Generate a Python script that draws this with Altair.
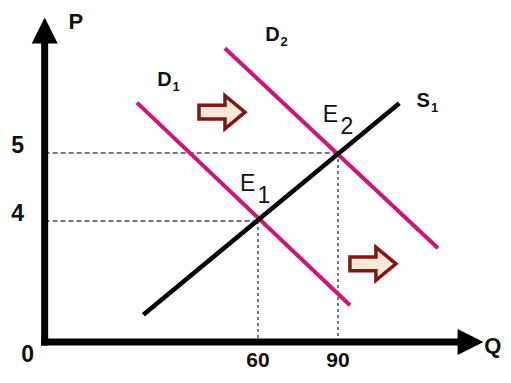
import altair as alt
import pandas as pd

# ---- data (Q = quantity, P = price) ----
origin_q = -20.0
origin_p = 2.22
y_axis_top_p = 6.62
x_axis_end_q = 135.0
y_arrow_p = 6.80
x_arrow_q = 139.7

demand_names = ["D1", "D2"]
demand_q_start = [14.6, 47.6]
demand_p_start = [5.74, 6.54]
demand_q_end = [94.5, 127.5]
demand_p_end = [2.76, 3.60]

supply_names = ["S1"]
supply_q_start = [17.0]
supply_p_start = [2.62]
supply_q_end = [113.0]
supply_p_end = [5.73]

eq_names = ["E1", "E2"]
eq_q = [60, 90]
eq_p = [4, 5]

q_ticks = [60, 90]
p_ticks = [4, 5]

curve_label_main = ["D", "D", "S"]
curve_label_sub = ["1", "2", "1"]
curve_label_q = [24.9, 65.4, 121.9]
curve_label_p = [6.07, 6.73, 5.76]

eq_label_main = ["E", "E"]
eq_label_sub = ["1", "2"]
eq_label_q = [56.1, 87.2]
eq_label_p = [4.55, 5.56]

shift_arrow_q = [46.5, 103.1]
shift_arrow_p = [5.60, 3.37]

axis_title_text = ["P", "Q"]
axis_title_q = [-8.3, 148.1]
axis_title_p = [6.93, 2.16]

W, H = 495, 367
xs = alt.Scale(domain=[-33.75, 151.875], nice=False, zero=False)
ys = alt.Scale(domain=[1.735, 7.132], nice=False, zero=False)
X = lambda f: alt.X(f, type="quantitative", scale=xs, axis=None)
Y = lambda f: alt.Y(f, type="quantitative", scale=ys, axis=None)

FONT = "Liberation Sans"
PINK = "#CF1578"

demand_df = pd.DataFrame({"name": demand_names, "q": demand_q_start, "p": demand_p_start,
                          "q2": demand_q_end, "p2": demand_p_end})
supply_df = pd.DataFrame({"name": supply_names, "q": supply_q_start, "p": supply_p_start,
                          "q2": supply_q_end, "p2": supply_p_end})
eq_df = pd.DataFrame({"name": eq_names, "q": eq_q, "p": eq_p, "oq": origin_q, "op": origin_p})
axes_df = pd.DataFrame({"q": [origin_q, origin_q], "p": [origin_p, origin_p],
                        "q2": [x_axis_end_q, origin_q], "p2": [origin_p, y_axis_top_p]})
qtick_df = pd.DataFrame({"q": q_ticks, "p": origin_p, "label": [str(v) for v in q_ticks]})
ptick_df = pd.DataFrame({"q": origin_q, "p": p_ticks, "label": [str(v) for v in p_ticks]})
zero_df = pd.DataFrame({"q": [origin_q], "p": [origin_p], "label": ["0"]})
curve_lab_df = pd.DataFrame({"q": curve_label_q, "p": curve_label_p,
                             "main": curve_label_main, "sub": curve_label_sub})
eq_lab_df = pd.DataFrame({"q": eq_label_q, "p": eq_label_p,
                          "main": eq_label_main, "sub": eq_label_sub})
arrow_df = pd.DataFrame({"q": shift_arrow_q, "p": shift_arrow_p})
title_df = pd.DataFrame({"q": axis_title_q, "p": axis_title_p, "label": axis_title_text})
yhead_df = pd.DataFrame({"q": [origin_q], "p": [y_arrow_p]})
xhead_df = pd.DataFrame({"q": [x_arrow_q], "p": [origin_p]})

# dashed guides
h_guides = alt.Chart(eq_df).mark_rule(color="#7a7a7a", strokeWidth=2, strokeDash=[5, 3]).encode(
    x=X("oq"), x2="q", y=Y("p"))
v_guides = alt.Chart(eq_df).mark_rule(color="#7a7a7a", strokeWidth=2, strokeDash=[3, 3]).encode(
    x=X("q"), y=Y("p"), y2="op")

axes = alt.Chart(axes_df).mark_rule(color="black", strokeWidth=7, strokeCap="square").encode(
    x=X("q"), y=Y("p"), x2="q2", y2="p2")
yhead = alt.Chart(yhead_df).mark_point(shape="M0,-1L1,1L-1,1Z", size=676, filled=True,
                                      color="black", opacity=1).encode(x=X("q"), y=Y("p"))
xhead = alt.Chart(xhead_df).mark_point(shape="M-1,-1L1,0L-1,1Z", size=676, filled=True,
                                      color="black", opacity=1).encode(x=X("q"), y=Y("p"))

demand = alt.Chart(demand_df).mark_rule(color=PINK, strokeWidth=4).encode(
    x=X("q"), y=Y("p"), x2="q2", y2="p2")
supply = alt.Chart(supply_df).mark_rule(color="black", strokeWidth=4.5).encode(
    x=X("q"), y=Y("p"), x2="q2", y2="p2")

arrows = alt.Chart(arrow_df).mark_point(
    shape="M-1,-0.3L0.13,-0.3L0.13,-0.72L1,0L0.13,0.72L0.13,0.3L-1,0.3Z",
    size=2116, filled=True, fill="#F6E8D6", stroke="#7F1712", strokeWidth=3.5,
    opacity=1, fillOpacity=1, strokeOpacity=1).encode(x=X("q"), y=Y("p"))

txt = dict(font=FONT, color="#111111")
qticks = alt.Chart(qtick_df).mark_text(fontSize=21, fontWeight="bold", dy=19,
                                        baseline="middle", align="center", **txt).encode(
    x=X("q"), y=Y("p"), text="label")
pticks = alt.Chart(ptick_df).mark_text(fontSize=23, fontWeight="bold", dx=-27, dy=-7,
                                        baseline="middle", align="center", **txt).encode(
    x=X("q"), y=Y("p"), text="label")
zero = alt.Chart(zero_df).mark_text(fontSize=23, fontWeight="bold", dx=-17, dy=13,
                                     baseline="middle", align="center", **txt).encode(
    x=X("q"), y=Y("p"), text="label")
titles = alt.Chart(title_df).mark_text(fontSize=22, fontWeight="bold",
                                        baseline="middle", align="center", **txt).encode(
    x=X("q"), y=Y("p"), text="label")

curve_main = alt.Chart(curve_lab_df).mark_text(fontSize=20, fontWeight="bold",
                                                baseline="middle", align="center", **txt).encode(
    x=X("q"), y=Y("p"), text="main")
curve_sub = alt.Chart(curve_lab_df).mark_text(fontSize=13, fontWeight="bold", dx=8, dy=7,
                                               baseline="middle", align="left", **txt).encode(
    x=X("q"), y=Y("p"), text="sub")
eq_main = alt.Chart(eq_lab_df).mark_text(fontSize=23, baseline="middle", align="center",
                                          **txt).encode(x=X("q"), y=Y("p"), text="main")
eq_sub = alt.Chart(eq_lab_df).mark_text(fontSize=23, dx=10, dy=12, baseline="middle",
                                         align="left", **txt).encode(
    x=X("q"), y=Y("p"), text="sub")

chart = alt.layer(
    h_guides, v_guides, demand, supply, axes, yhead, xhead, arrows,
    qticks, pticks, zero, titles, curve_main, curve_sub, eq_main, eq_sub
).properties(width=W, height=H, padding=0, autosize="none").configure_view(stroke=None)

chart.save("out.html", embed_options={"renderer": "svg", "actions": False})
